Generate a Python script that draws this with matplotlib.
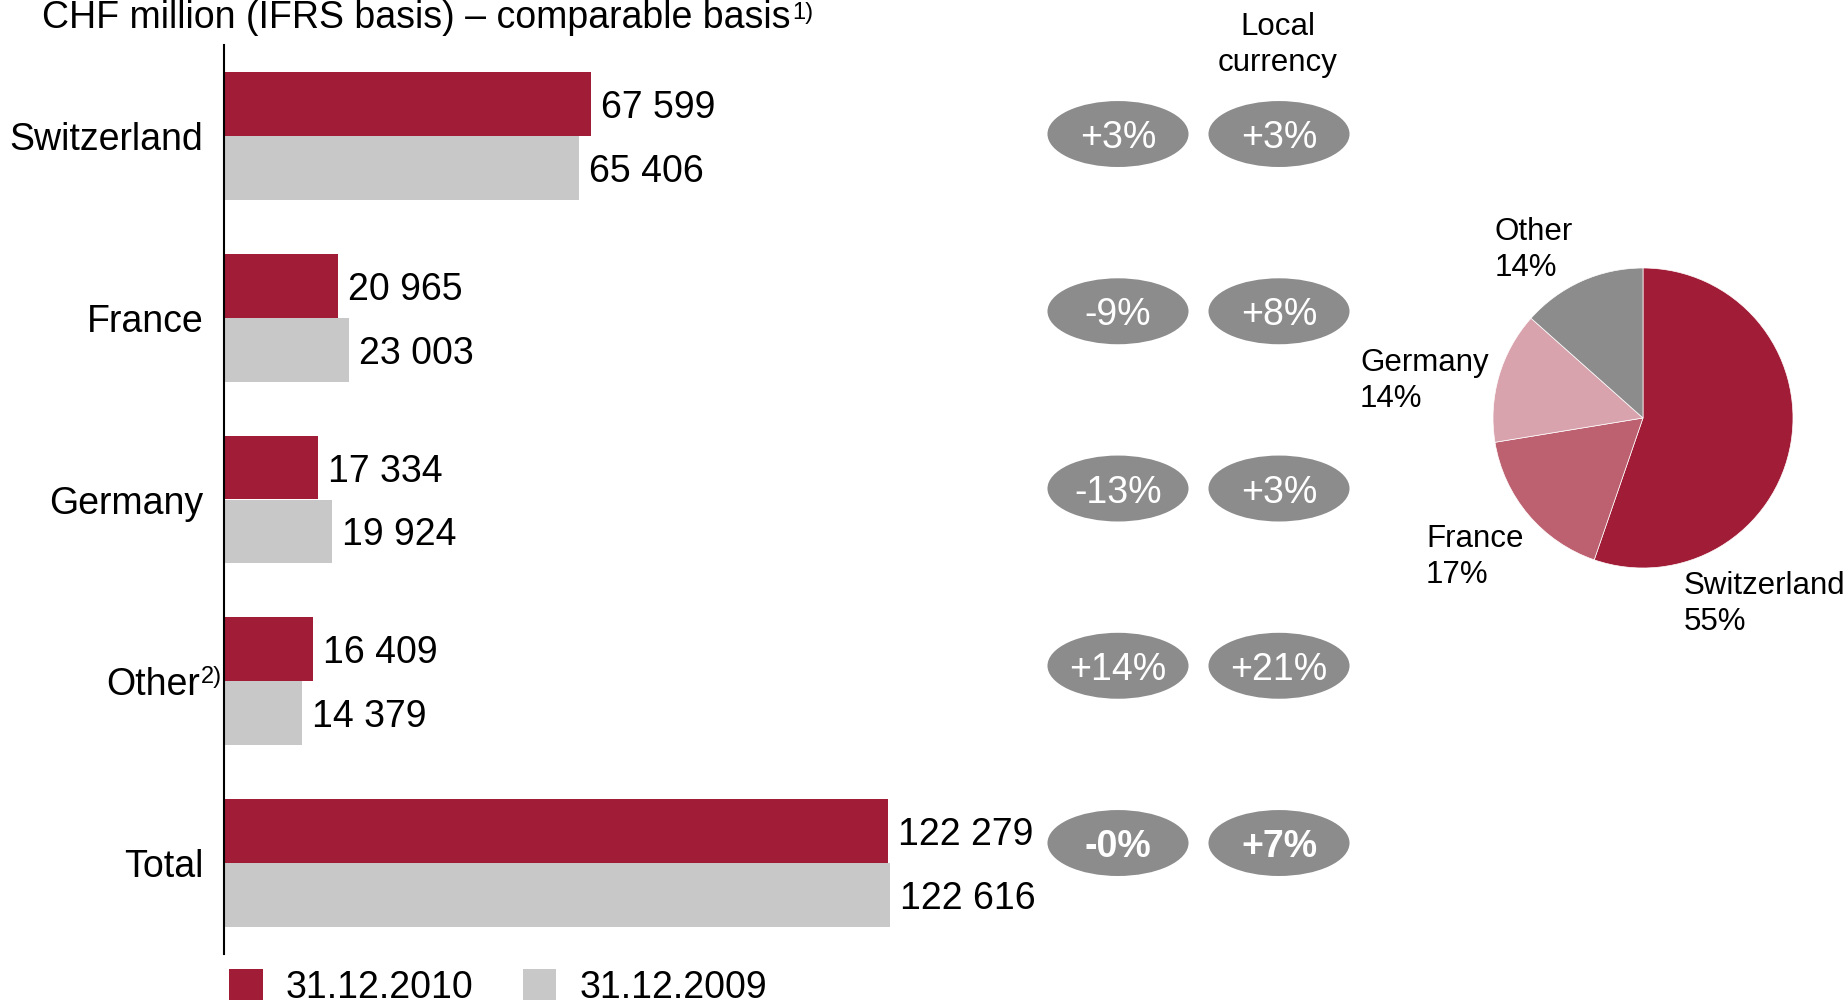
import matplotlib
matplotlib.use("Agg")
import numpy as np
import matplotlib.pyplot as plt
from matplotlib.patches import Ellipse

plt.rcParams["font.family"] = ["Liberation Sans", "DejaVu Sans"]

# data
categories = ["Switzerland", "France", "Germany", "Other", "Total"]
values_2010 = [67599, 20965, 17334, 16409, 122279]
values_2009 = [65406, 23003, 19924, 14379, 122616]
chf_change = ["+3%", "-9%", "-13%", "+14%", "-0%"]
local_change = ["+3%", "+8%", "+3%", "+21%", "+7%"]
pie_labels = ["Switzerland", "France", "Germany", "Other"]
pie_values = values_2010[:4]
pie_shares = [55, 17, 14, 14]

RED = "#a11c37"
GREY = "#c8c8c8"
DARK = "#8c8c8c"
pie_colors = [RED, "#bd6070", "#d9a3ae", DARK]

W, H = 1848, 1002
FS = 27
FS_SMALL = 22.5
FS_SUP = 17


def px(x0, y0, w, h):
    # pixel box (from top left) -> figure fraction rect
    return [x0 / W, 1 - (y0 + h) / H, w / W, h / H]


fig = plt.figure(figsize=(W / 100, H / 100), dpi=100)

# bars
ax = fig.add_axes(px(224, 45, 1000, 909))
ax.set_xlim(0, 122616 * 1000 / 665.8)
ax.set_ylim(4.5, -0.5)
y = np.arange(len(categories))
bh = 0.352
b1 = ax.barh(y - bh / 2, values_2010, height=bh, color=RED, label="31.12.2010")
b2 = ax.barh(y + bh / 2, values_2009, height=bh, color=GREY, label="31.12.2009")

for bars, vals in [(b1, values_2010), (b2, values_2009)]:
    for rect, v in zip(bars, vals):
        ax.annotate(f"{v:,}".replace(",", " "),
                    xy=(v, rect.get_y() + rect.get_height() / 2),
                    xytext=(7, 0), textcoords="offset points",
                    va="center_baseline", ha="left", fontsize=FS)

for s in ["top", "right", "bottom"]:
    ax.spines[s].set_visible(False)
ax.spines["left"].set_linewidth(1.5)
ax.spines["left"].set_color("black")
ax.set_xticks([])
ax.set_yticks(y, [])
ax.tick_params(axis="y", length=0)

# category labels, "Other" carries footnote 2)
for i, cat in enumerate(categories):
    dx = -17.5 if cat == "Other" else -15
    ax.annotate(cat, xy=(0, i), xycoords=("axes fraction", "data"),
                xytext=(dx, 0), textcoords="offset points",
                ha="right", va="center_baseline", fontsize=FS,
                annotation_clip=False)
ax.annotate("2)", xy=(0, categories.index("Other")),
            xycoords=("axes fraction", "data"),
            xytext=(-17, -1), textcoords="offset points",
            ha="left", va="baseline", fontsize=FS_SUP, annotation_clip=False)

# change ellipses
axp = fig.add_axes(px(1037.5, 45.4, 322, 886.25))
axp.set_xlim(-0.5, 1.5)
axp.set_ylim(4.5, -0.5)
axp.axis("off")
for i, (a, b) in enumerate(zip(chf_change, local_change)):
    weight = "bold" if i == len(chf_change) - 1 else "normal"
    for col, txt in enumerate([a, b]):
        axp.add_patch(Ellipse((col, i), 0.876, 0.372, color=DARK, lw=0))
        axp.text(col, i, txt, ha="center", va="center_baseline",
                 color="white", fontsize=FS, fontweight=weight)

fig.text(1278 / W, 1 - 45 / H, "Local\ncurrency", ha="center", va="center",
         fontsize=FS_SMALL, linespacing=1.22)

# pie
axpie = fig.add_axes(px(1443, 218, 400, 400))
axpie.pie(pie_values, colors=pie_colors, startangle=90, counterclock=False,
          radius=0.75, wedgeprops=dict(edgecolor="white", linewidth=0.5))
axpie.set_xlim(-1, 1)
axpie.set_ylim(-1, 1)
label_pos = [(0.205, -0.93), (-1.085, -0.695), (-1.415, 0.185), (-0.74, 0.84)]
for name, share, (lx, ly) in zip(pie_labels, pie_shares, label_pos):
    axpie.text(lx, ly, f"{name}\n{share}%", ha="left", va="center",
               fontsize=FS_SMALL, linespacing=1.3, clip_on=False)

# title
title = fig.text(42 / W, 1 - 28 / H, "CHF million (IFRS basis) \u2013 comparable basis",
                 ha="left", va="baseline", fontsize=FS)
ax.annotate("1)", xy=(1.0, 0.0), xycoords=title, xytext=(1, 12.5),
            textcoords="offset points", ha="left", va="baseline",
            fontsize=FS_SUP, annotation_clip=False)

fig.legend(handles=[b1, b2], loc="upper left",
           bbox_to_anchor=(229 / W, 1 - 969 / H), ncol=2, frameon=False,
           fontsize=FS, handlelength=0.9, handleheight=0.9,
           handletextpad=0.62, columnspacing=1.3, borderpad=0,
           borderaxespad=0)

fig.savefig("out.png", dpi=100)
